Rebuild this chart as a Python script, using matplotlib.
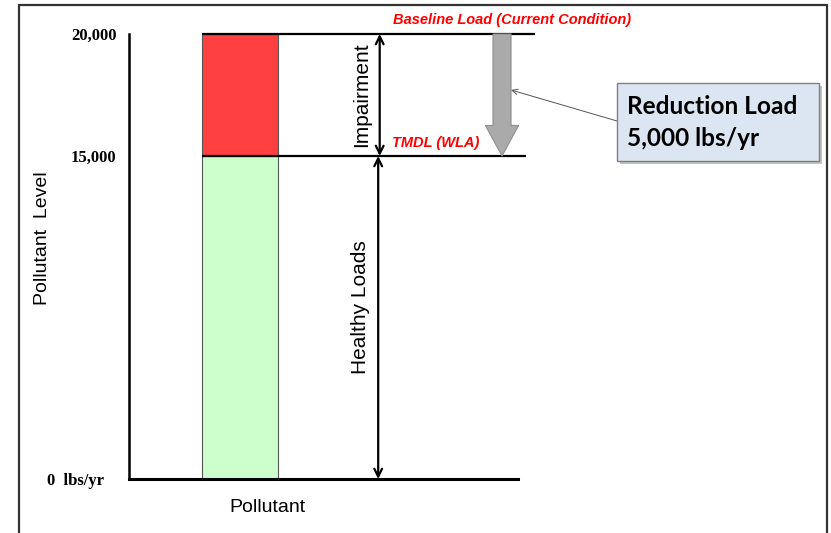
import numpy as np
import matplotlib
matplotlib.use("Agg")
import matplotlib.pyplot as plt
from matplotlib.patches import Rectangle
from matplotlib.scale import FuncScale

# data
levels = [0, 15000, 20000]
tick_labels = ["0  lbs/yr", "15,000", "20,000"]
healthy_load = 15000
baseline_load = 20000
reduction = baseline_load - healthy_load
category = "Pollutant"

W, H = 831, 533
fig = plt.figure(figsize=(W / 100, H / 100), dpi=100)

def fx(px):
    return px / W

def fy(py):
    return 1 - py / H

# outer frame
fig.patches.append(Rectangle((fx(19), fy(545)), fx(827) - fx(19), fy(5) - fy(545),
                             transform=fig.transFigure, fill=False,
                             edgecolor="#333333", lw=1.6, zorder=0))

ax = fig.add_axes([fx(129), fy(479), fx(540) - fx(129), fy(34) - fy(479)])

# the 15,000-20,000 band is drawn taller than the rest
def fwd(y):
    return np.interp(y, [0, 15000, 20000], [0, 323, 445])

def inv(y):
    return np.interp(y, [0, 323, 445], [0, 15000, 20000])

ax.set_yscale(FuncScale(ax, (fwd, inv)))
ax.set_ylim(0, 20000)
ax.set_xlim(-1.46, 3.95)

# bar
ax.bar(0, healthy_load, width=1.0, color="#ccffcc", edgecolor="#555555", lw=0.8, zorder=2)
ax.bar(0, reduction, bottom=healthy_load, width=1.0, color="#ff4040",
       edgecolor="#555555", lw=0.8, zorder=2, clip_on=False)

# level lines
ax.hlines(baseline_load, -0.5, 3.88, color="black", lw=1.6, zorder=3, clip_on=False)
ax.hlines(healthy_load, -0.5, 3.76, color="black", lw=1.6, zorder=3)

# spines
for s in ["top", "right"]:
    ax.spines[s].set_visible(False)
ax.spines["left"].set_linewidth(1.8)
ax.spines["bottom"].set_linewidth(2.2)
ax.spines["bottom"].set_bounds(-1.46, 3.66)

ax.set_xticks([])
ax.set_yticks(levels)
ax.set_yticklabels(tick_labels, fontfamily="Liberation Serif", fontweight="bold", fontsize=12)
ax.tick_params(axis="y", length=0, pad=9)
ax.get_yticklabels()[0].set_x(-0.03)

ax.set_ylabel("Pollutant  Level", fontfamily="Liberation Sans", fontsize=14)
ax.yaxis.label.set_va("center")
ax.yaxis.set_label_coords(-0.21, 0.5416)
ax.set_xlabel(category, fontfamily="Liberation Sans", fontsize=14)
ax.xaxis.label.set_va("center")
ax.xaxis.set_label_coords(0.336, -0.065)

# double arrows
ax.annotate("", xy=(1.84, baseline_load), xytext=(1.84, healthy_load),
            arrowprops=dict(arrowstyle="<->", lw=1.6, color="black",
                            shrinkA=0, shrinkB=0, mutation_scale=14))
ax.annotate("", xy=(1.82, healthy_load), xytext=(1.82, 0),
            arrowprops=dict(arrowstyle="<->", lw=1.6, color="black",
                            shrinkA=0, shrinkB=0, mutation_scale=14))

ax.text(1.60, 17500, "Impairment", rotation=90, ha="center", va="center",
        fontfamily="Liberation Sans", fontsize=15)
ax.text(1.59, 8000, "Healthy Loads", rotation=90, ha="center", va="center",
        fontfamily="Liberation Sans", fontsize=15)

# grey reduction arrow
ax.annotate("", xy=(3.45, healthy_load), xytext=(3.45, baseline_load),
            arrowprops=dict(arrowstyle="simple,head_width=2.4,head_length=2.2,tail_width=1.3",
                            mutation_scale=10, facecolor="#aaaaaa", edgecolor="#909090",
                            lw=0.8, shrinkA=0, shrinkB=0), zorder=4)

# red labels
ax.annotate("Baseline Load (Current Condition)", xy=(3.58, baseline_load),
            xytext=(0, 10), textcoords="offset points", ha="center", va="center",
            color="#ff0000", fontfamily="Liberation Sans", fontweight="bold",
            fontstyle="italic", fontsize=10.5, annotation_clip=False)
ax.annotate("TMDL (WLA)", xy=(2.58, healthy_load),
            xytext=(0, 9.5), textcoords="offset points", ha="center", va="center",
            color="#ff0000", fontfamily="Liberation Sans", fontweight="bold",
            fontstyle="italic", fontsize=10.5)

# callout box
bx0, by0, bx1, by1 = 617, 83, 819, 161
fig.patches.append(Rectangle((fx(bx0 + 3), fy(by1 + 3)), fx(bx1) - fx(bx0), fy(by0) - fy(by1),
                             transform=fig.transFigure, facecolor="#9a9a9a",
                             edgecolor="none", alpha=0.6, zorder=5))
fig.patches.append(Rectangle((fx(bx0), fy(by1)), fx(bx1) - fx(bx0), fy(by0) - fy(by1),
                             transform=fig.transFigure, facecolor="#dce6f2",
                             edgecolor="#7f7f7f", lw=1.0, zorder=6))
fig.text(fx(627), fy(106), "Reduction Load", ha="left", va="center",
         fontfamily="Lato", fontweight="bold", fontsize=17.6, zorder=7)
fig.text(fx(627), fy(138), "{:,} lbs/yr".format(reduction), ha="left", va="center",
         fontfamily="Lato", fontweight="bold", fontsize=17.6, zorder=7)

ax.annotate("", xy=(3.57, 17705), xytext=(fx(bx0), fy(121)),
            textcoords="figure fraction",
            arrowprops=dict(arrowstyle="->", lw=0.7, color="#555555",
                            shrinkA=0, shrinkB=0, mutation_scale=10), zorder=5)

fig.savefig("out.png", dpi=100)
